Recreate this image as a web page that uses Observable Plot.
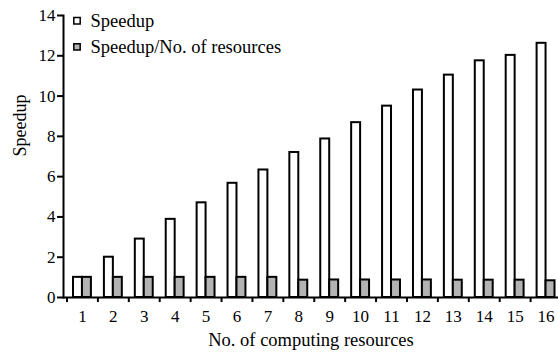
<!DOCTYPE html>
<html>
<head>
<meta charset="utf-8">
<script src="https://cdn.jsdelivr.net/npm/d3@7"></script>
<script src="https://cdn.jsdelivr.net/npm/@observablehq/plot@0.6"></script>
<style>
  html, body { margin: 0; padding: 0; background: #fff; }
  #chart svg { display: block; overflow: visible; }
</style>
</head>
<body>
<div id="chart"></div>
<script>
const resources = [1, 2, 3, 4, 5, 6, 7, 8, 9, 10, 11, 12, 13, 14, 15, 16];
const speedup = [1.0, 2.0, 2.9, 3.88, 4.7, 5.67, 6.33, 7.2, 7.87, 8.68, 9.5, 10.3, 11.04, 11.75, 12.02, 12.62];
const efficiency = [1.0, 1.0, 1.0, 1.0, 1.0, 1.0, 1.0, 0.86, 0.87, 0.87, 0.87, 0.87, 0.86, 0.86, 0.86, 0.83];
const yTicks = [0, 2, 4, 6, 8, 10, 12, 14];
const seriesNames = ["Speedup", "Speedup/No. of resources"];
const xTitle = "No. of computing resources";
const yTitle = "Speedup";

const rowsA = resources.map((r, i) => ({r, v: speedup[i]}));
const rowsB = resources.map((r, i) => ({r, v: efficiency[i]}));

const font = "Liberation Serif, Times New Roman, serif";

const chart = Plot.plot({
  width: 558,
  height: 354,
  marginTop: 15,
  marginBottom: 57,
  marginLeft: 63,
  marginRight: 0,
  style: {fontFamily: font, fontSize: "16px", color: "#000", background: "#fff"},
  x: {type: "band", domain: resources, range: [66.5, 561], padding: 0, round: false, axis: null},
  y: {domain: [0, 14], axis: null},
  marks: [
    Plot.barY(rowsA, {x: "r", y: "v", fill: "#fff", stroke: "#000", strokeWidth: 2, insetLeft: 6.5, insetRight: 15.45}),
    Plot.barY(rowsB, {x: "r", y: "v", fill: "#b3b3b3", stroke: "#000", strokeWidth: 2, insetLeft: 15.45, insetRight: 6.5}),
    Plot.ruleY([0], {stroke: "#000", strokeWidth: 2}),
    Plot.frame({anchor: "left", stroke: "#000", strokeWidth: 2}),
    Plot.ruleX(resources, {x: d => d, y1: 0, y2: -0.25, dx: -15.45, stroke: "#000", strokeWidth: 2}),
    Plot.text(resources, {x: d => d, y: 0, dy: 19, lineAnchor: "middle", text: d => String(d), fontSize: 17}),
    Plot.axisY({ticks: yTicks, tickSize: 6, tickPadding: 2, fontSize: 17, label: null, strokeWidth: 2}),
    Plot.text([xTitle], {frameAnchor: "bottom", dy: 43, lineAnchor: "middle", fontSize: 18.5}),
    Plot.text([yTitle], {frameAnchor: "left", dx: -43, rotate: -90, fontSize: 18}),
    Plot.dot([seriesNames[0]], {frameAnchor: "top-left", dx: 13.5, dy: 5.3, symbol: "square", r: 3.6, fill: "#fff", stroke: "#000", strokeWidth: 1.5}),
    Plot.dot([seriesNames[1]], {frameAnchor: "top-left", dx: 13.5, dy: 31.4, symbol: "square", r: 3.6, fill: "#b3b3b3", stroke: "#000", strokeWidth: 1.5}),
    Plot.text([seriesNames[0]], {frameAnchor: "top-left", dx: 27, dy: 6, lineAnchor: "middle", text: d => d, textAnchor: "start", fontSize: 18.5}),
    Plot.text([seriesNames[1]], {frameAnchor: "top-left", dx: 27, dy: 32, lineAnchor: "middle", text: d => d, textAnchor: "start", fontSize: 18.5})
  ]
});
document.getElementById("chart").appendChild(chart);
</script>
</body>
</html>
